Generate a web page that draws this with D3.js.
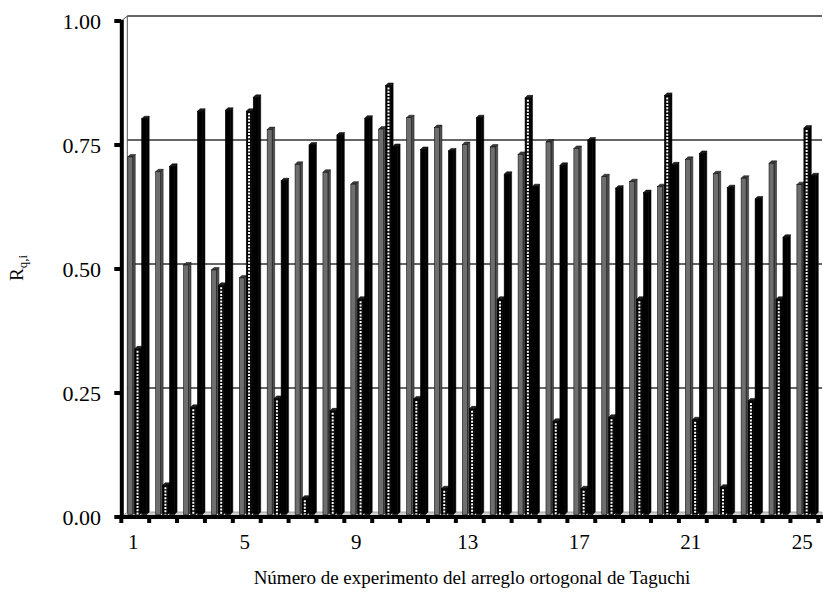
<!DOCTYPE html>
<html>
<head>
<meta charset="utf-8">
<script src="https://cdn.jsdelivr.net/npm/d3@7"></script>
<style>
  body { margin: 0; background: #fff; }
  svg text { font-family: "Liberation Serif", "Times New Roman", serif; fill: #000; }
</style>
</head>
<body>
<svg id="chart" width="823" height="592"></svg>
<script>
// experiment numbers of the Taguchi orthogonal array
var categories = d3.range(1, 26);
var seriesNames = ["gris", "punteado", "negro"];

// values
var grayValues = [0.721, 0.691, 0.503, 0.493, 0.477, 0.776, 0.706, 0.690, 0.666, 0.777,
                  0.800, 0.780, 0.746, 0.741, 0.726, 0.751, 0.738, 0.681, 0.671, 0.661,
                  0.716, 0.687, 0.678, 0.708, 0.665];
var dottedValues = [0.334, 0.059, 0.216, 0.462, 0.813, 0.234, 0.033, 0.209, 0.434, 0.865,
                    0.233, 0.052, 0.213, 0.434, 0.840, 0.188, 0.052, 0.196, 0.434, 0.845,
                    0.191, 0.055, 0.229, 0.434, 0.779];
var blackValues = [0.798, 0.702, 0.813, 0.815, 0.841, 0.673, 0.745, 0.765, 0.799, 0.742,
                   0.736, 0.733, 0.800, 0.686, 0.661, 0.704, 0.755, 0.658, 0.649, 0.705,
                   0.728, 0.659, 0.636, 0.559, 0.683];

var yTicks = [0, 0.25, 0.5, 0.75, 1];
var xTickLabels = [1, 5, 9, 13, 17, 21, 25];

var svg = d3.select("#chart");

// front plane (axes) and the two planes behind it (bars, back wall)
var front = { x0: 121.3, x1: 818.3, y0: 517, y1: 21 };
var barShift = { dx: 3, dy: -2.5 };
var wallShift = { dx: 5.5, dy: -5 };
var depth = 2.5;

var xFront = d3.scaleBand().domain(categories).range([front.x0, front.x1]);
var y = d3.scaleLinear().domain([0, 1]).range([front.y0, front.y1]);

var xBar = d3.scaleBand().domain(categories)
    .range([front.x0 + barShift.dx, front.x1 + barShift.dx])
    .paddingInner(0.25).paddingOuter(0.125);
var xSub = d3.scaleBand().domain(seriesNames).range([0, xBar.bandwidth()]);

// back wall and floor
var wallLeft = front.x0 + wallShift.dx + 0.5;
var wallRight = 822;

svg.append("polygon")
    .attr("points", [[front.x0, front.y0], [wallLeft, front.y0 + wallShift.dy],
                     [wallRight, front.y0 + wallShift.dy], [wallRight, front.y0]].join(" "))
    .attr("fill", "#d0d0d0").attr("stroke", "#777").attr("stroke-width", 0.6);

svg.append("g").selectAll("line")
    .data(yTicks.filter(function(d) { return d > 0; }))
    .enter().append("line")
    .attr("x1", wallLeft).attr("x2", wallRight)
    .attr("y1", function(d) { return y(d) + wallShift.dy; })
    .attr("y2", function(d) { return y(d) + wallShift.dy; })
    .attr("stroke", "#333").attr("stroke-width", 1.3);

svg.append("line")
    .attr("x1", wallLeft).attr("x2", wallLeft)
    .attr("y1", y(1) + wallShift.dy).attr("y2", front.y0 + wallShift.dy)
    .attr("stroke", "#555").attr("stroke-width", 1);
svg.append("line")
    .attr("x1", front.x0).attr("y1", y(1))
    .attr("x2", wallLeft).attr("y2", y(1) + wallShift.dy)
    .attr("stroke", "#555").attr("stroke-width", 1);

// bars
var base = y(0) + barShift.dy;
var series = [
  { name: "gris", values: grayValues, front: "#6e6e6e", side: "#505050", top: "#3c3c3c", stroke: "#111" },
  { name: "punteado", values: dottedValues, front: "#000", side: "#000", top: "#222", stroke: "#000" },
  { name: "negro", values: blackValues, front: "#000", side: "#000", top: "#1c1c1c", stroke: "#000" }
];

var bars = svg.append("g");
categories.forEach(function(c, i) {
  series.forEach(function(s) {
    var v = s.values[i];
    var x0 = xBar(c) + xSub(s.name);
    var w = xSub.bandwidth() - 2;
    var top = y(v) + barShift.dy;
    var g = bars.append("g");

    g.append("polygon")
        .attr("points", [[x0 + w, top], [x0 + w + depth, top - depth],
                         [x0 + w + depth, base - depth], [x0 + w, base]].join(" "))
        .attr("fill", s.side).attr("stroke", s.stroke).attr("stroke-width", 0.5);
    g.append("polygon")
        .attr("points", [[x0, top], [x0 + depth, top - depth],
                         [x0 + w + depth, top - depth], [x0 + w, top]].join(" "))
        .attr("fill", s.top).attr("stroke", s.stroke).attr("stroke-width", 0.5);
    g.append("rect")
        .attr("x", x0).attr("y", top)
        .attr("width", w).attr("height", base - top)
        .attr("fill", s.front).attr("stroke", s.stroke).attr("stroke-width", 0.6);

    if (s.name === "punteado") {
      g.append("line")
          .attr("x1", x0 + w / 2 + 0.3).attr("x2", x0 + w / 2 + 0.3)
          .attr("y1", top + 2).attr("y2", base)
          .attr("stroke", "#fff").attr("stroke-width", 2)
          .attr("stroke-dasharray", "2,1.3");
    }
  });
});

// y axis (front)
svg.append("line")
    .attr("x1", front.x0 + 0.5).attr("x2", front.x0 + 0.5)
    .attr("y1", y(1) - 1).attr("y2", front.y0 + 2)
    .attr("stroke", "#000").attr("stroke-width", 4);

var yAxis = svg.append("g");
yAxis.selectAll("line")
    .data(yTicks)
    .enter().append("line")
    .attr("x1", front.x0 - 7).attr("x2", front.x0)
    .attr("y1", function(d) { return y(d); })
    .attr("y2", function(d) { return y(d); })
    .attr("stroke", "#000").attr("stroke-width", 4);
yAxis.selectAll("text")
    .data(yTicks)
    .enter().append("text")
    .attr("x", 101).attr("y", function(d) { return y(d); })
    .attr("dy", "0.35em")
    .attr("text-anchor", "end")
    .style("font-size", "22px")
    .text(d3.format(".2f"));

// x axis (front)
svg.append("line")
    .attr("x1", front.x0 - 1.5).attr("x2", 823)
    .attr("y1", front.y0).attr("y2", front.y0)
    .attr("stroke", "#000").attr("stroke-width", 4);

var xAxis = svg.append("g");
xAxis.selectAll("line")
    .data(categories.concat([null]))
    .enter().append("line")
    .attr("x1", function(d) { return d === null ? front.x1 : xFront(d); })
    .attr("x2", function(d) { return d === null ? front.x1 : xFront(d); })
    .attr("y1", front.y0).attr("y2", front.y0 + 6)
    .attr("stroke", "#000").attr("stroke-width", 4);
xAxis.selectAll("text")
    .data(xTickLabels)
    .enter().append("text")
    .attr("x", function(d) { return xFront(d) + xFront.bandwidth() / 2 - 2; })
    .attr("y", 549)
    .attr("text-anchor", "middle")
    .style("font-size", "21px")
    .text(function(d) { return d; });

// titles
svg.append("text")
    .attr("x", 472).attr("y", 584)
    .attr("text-anchor", "middle")
    .style("font-size", "19px")
    .text("Número de experimento del arreglo ortogonal de Taguchi");

var yTitle = svg.append("text")
    .attr("transform", "translate(23,268) rotate(-90)")
    .attr("text-anchor", "middle")
    .style("font-size", "19px");
yTitle.append("tspan").text("R");
yTitle.append("tspan").attr("dy", 4).style("font-size", "13px").text("q,i");
</script>
</body>
</html>
